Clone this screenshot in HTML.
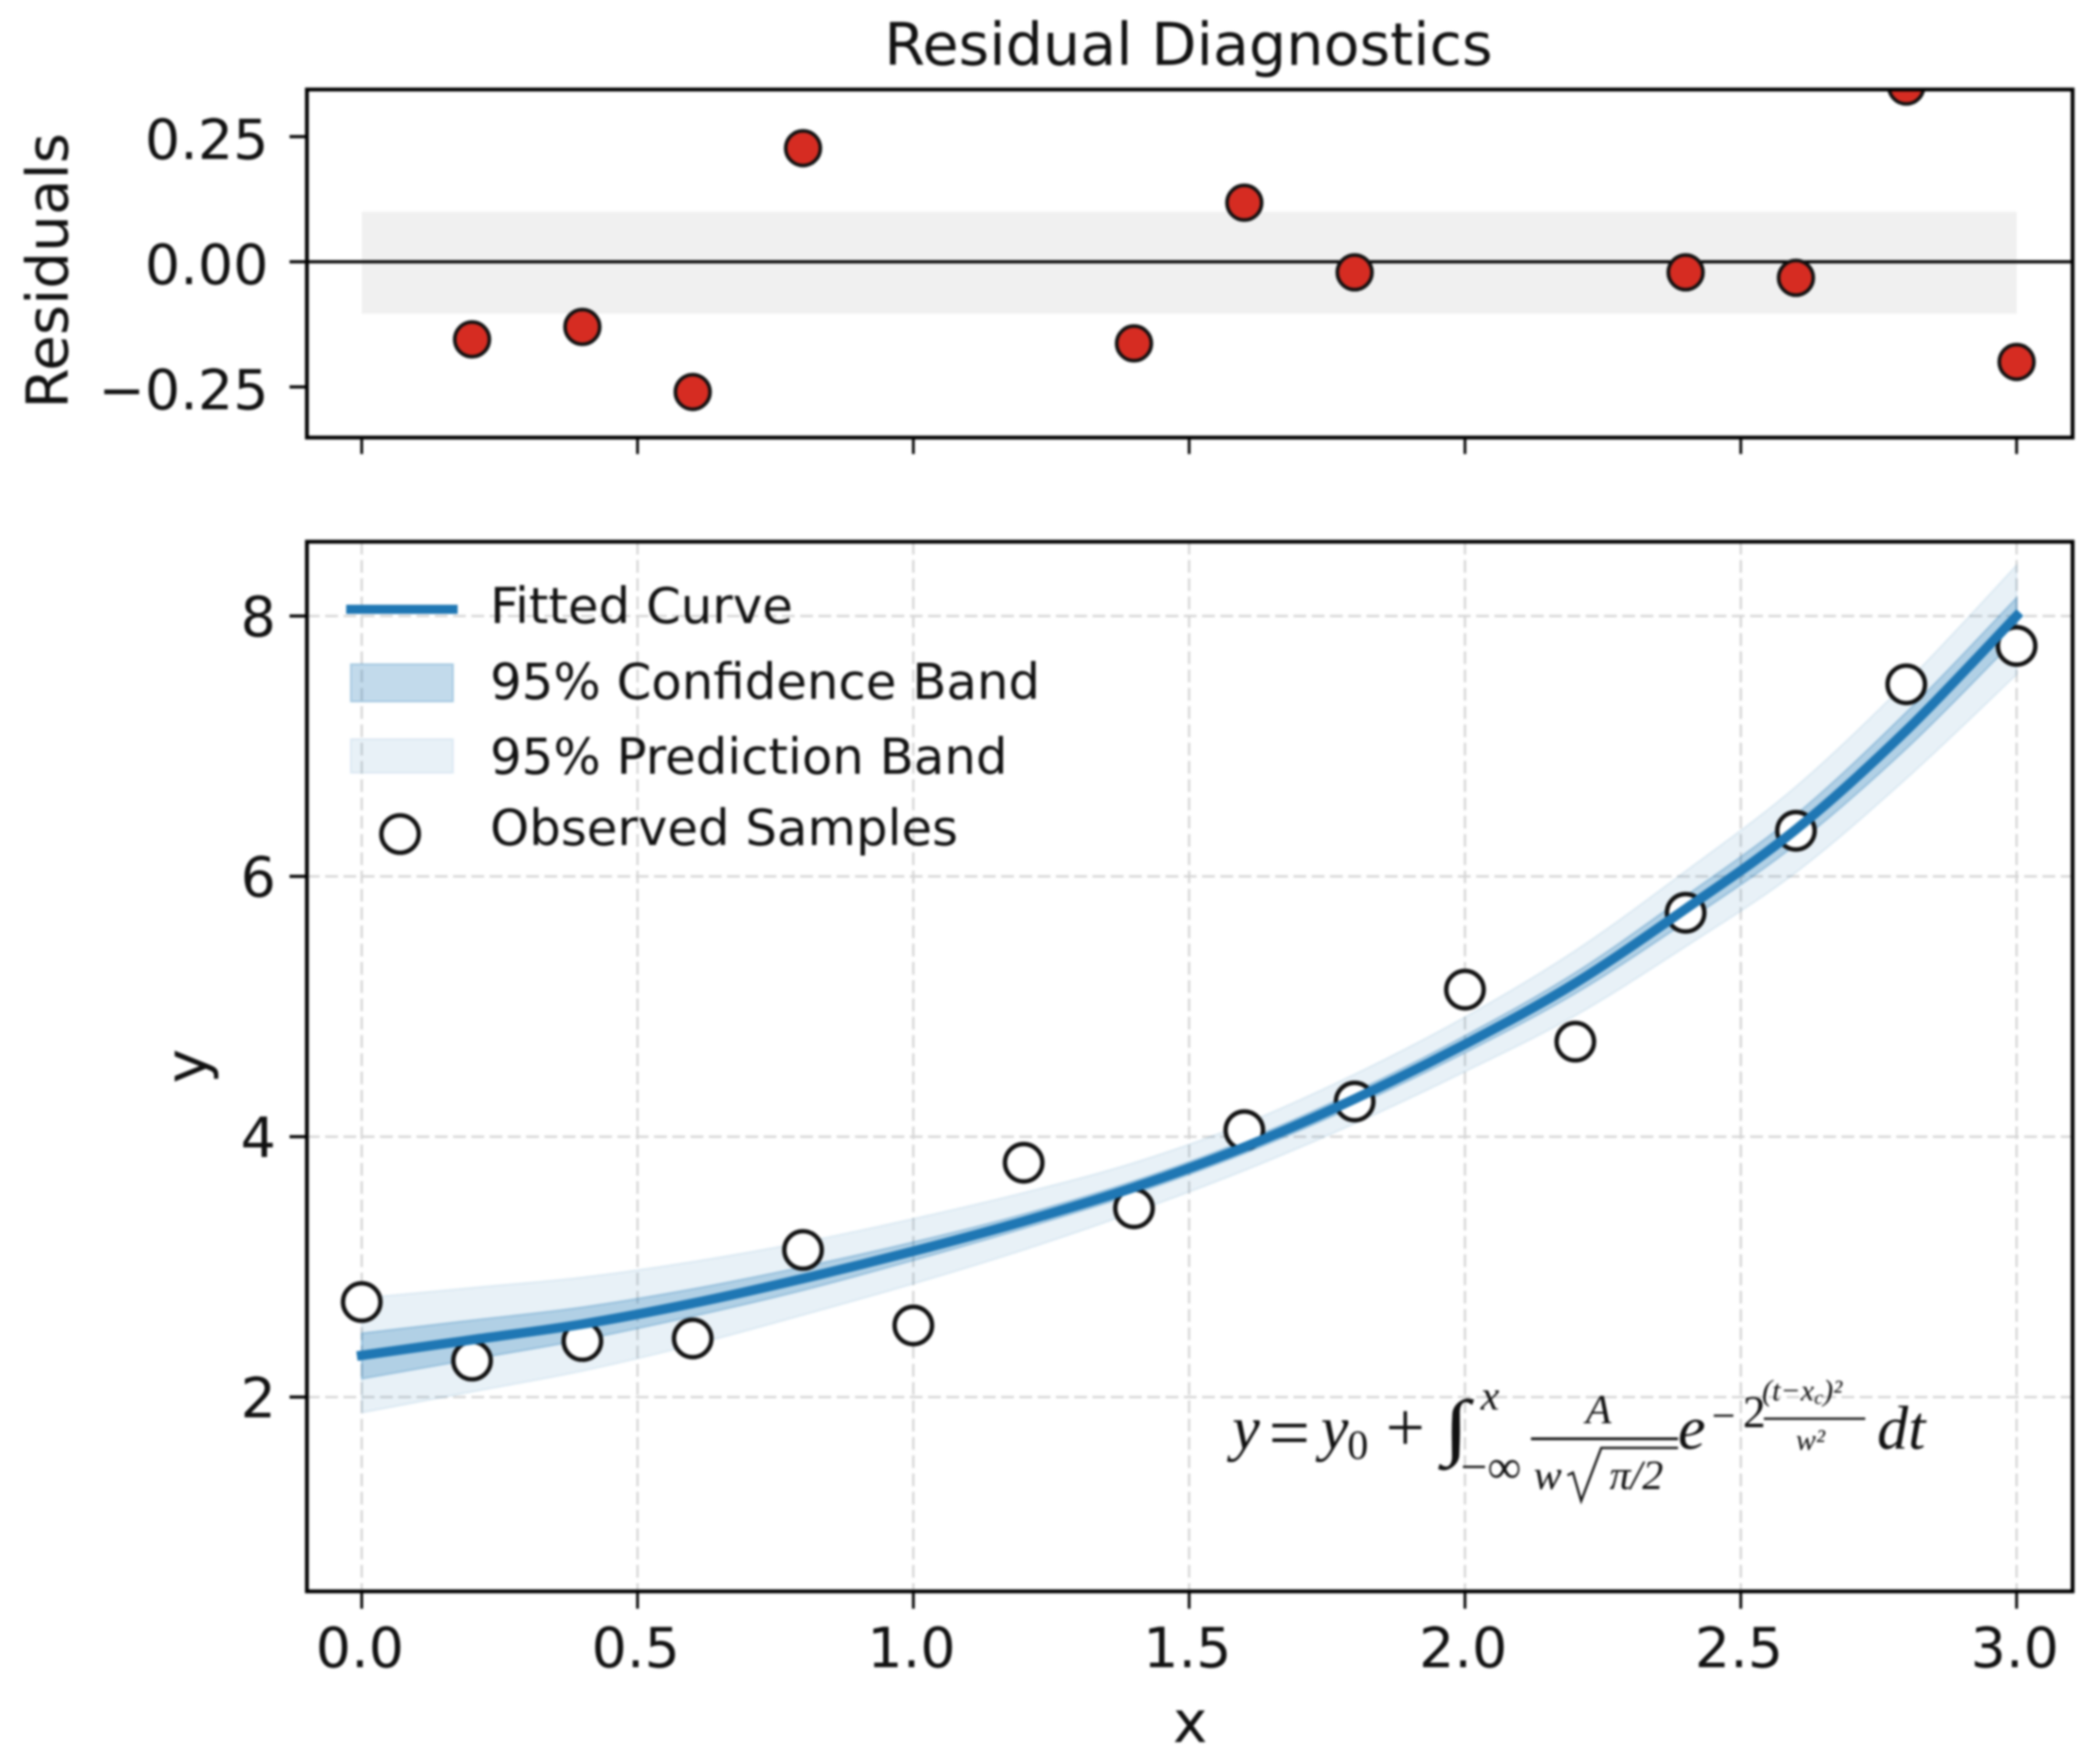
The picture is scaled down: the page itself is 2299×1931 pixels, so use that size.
<!DOCTYPE html>
<html lang="en">
<head>
<meta charset="utf-8">
<title>Residual Diagnostics</title>
<style>
html,body{margin:0;padding:0;background:#fff}
#chart{display:block;width:2299px;height:1931px;filter:blur(1.3px)}
text{font-family:"DejaVu Sans","Liberation Sans",sans-serif;fill:#111}
.m{font-family:"Liberation Serif",serif;font-style:italic;fill:#111}
.r{font-family:"Liberation Serif",serif;fill:#111}
</style>
</head>
<body>
<svg id="chart" xmlns="http://www.w3.org/2000/svg" width="2299" height="1931" viewBox="0 0 2299 1931">
  <defs>
    <clipPath id="clip-top"><rect x="336" y="98" width="1933" height="381"/></clipPath>
    <clipPath id="clip-main"><rect x="336" y="593" width="1933" height="1149"/></clipPath>
  </defs>
  <rect x="0" y="0" width="2299" height="1931" fill="#fff"/>
  <g id="top-panel"></g>
  <g id="main-panel"></g>
  <g id="formula">
    <text class="m" x="1349" y="1586" font-size="68">y</text>
    <text class="r" x="1389" y="1595" font-size="80">=</text>
    <text class="m" x="1446" y="1586" font-size="68">y</text>
    <text class="r" x="1475" y="1597" font-size="46">0</text>
    <text class="r" x="1517" y="1588" font-size="76">+</text>
    <text class="m" transform="translate(1580 1588) scale(1.3 1)" x="0" y="0" font-size="80">∫</text>
    <text class="m" x="1621" y="1543" font-size="46">x</text>
    <text class="r" x="1599" y="1623" font-size="52">−∞</text>
    <text class="m" x="1750" y="1558" font-size="46" text-anchor="middle">A</text>
    <line x1="1676" y1="1575" x2="1837" y2="1575" stroke="#111" stroke-width="3"/>
    <text class="m" x="1679" y="1630" font-size="46">w</text>
    <polyline points="1716,1615 1722,1612 1731,1643 1753,1585 1837,1585" fill="none" stroke="#111" stroke-width="2.5"/>
    <text class="m" x="1762" y="1630" font-size="46">π/2</text>
    <text class="m" x="1837" y="1586" font-size="68">e</text>
    <text class="r" x="1874" y="1565" font-size="46">−</text>
    <text class="r" x="1908" y="1562" font-size="50">2</text>
    <text class="m" x="1929" y="1533" font-size="33">(t−x<tspan font-size="22" dy="4">c</tspan><tspan dy="-4">)²</tspan></text>
    <line x1="1931" y1="1553" x2="2042" y2="1553" stroke="#111" stroke-width="2.5"/>
    <text class="m" x="1966" y="1587" font-size="33">w²</text>
    <text class="m" x="2055" y="1586" font-size="68">dt</text>
  </g>
</svg>
<script>
// ---- chart data ----
const sampleX = [0, 0.2, 0.4, 0.6, 0.8, 1.0, 1.2, 1.4, 1.6, 1.8, 2.0, 2.2, 2.4, 2.6, 2.8, 3.0];
const observedY = [2.73, 2.28, 2.43, 2.45, 3.13, 2.55, 3.80, 3.45, 4.05, 4.27, 5.13, 4.73, 5.72, 6.35, 7.475, 7.77];
const fittedY = [2.32, 2.44, 2.56, 2.72, 2.91, 3.12, 3.35, 3.61, 3.92, 4.29, 4.71, 5.18, 5.75, 6.36, 7.12, 8.0];
const confidenceUpper = [2.49, 2.59, 2.69, 2.83, 3.0, 3.19, 3.405, 3.66, 3.97, 4.345, 4.775, 5.26, 5.85, 6.475, 7.26, 8.14];
const confidenceLower = [2.14, 2.29, 2.44, 2.62, 2.82, 3.05, 3.295, 3.56, 3.87, 4.235, 4.645, 5.10, 5.65, 6.245, 6.98, 7.83];
const predictionUpper = [2.76, 2.84, 2.92, 3.04, 3.19, 3.37, 3.57, 3.80, 4.10, 4.48, 4.92, 5.43, 6.04, 6.69, 7.49, 8.39];
const predictionLower = [1.88, 2.04, 2.20, 2.40, 2.63, 2.87, 3.13, 3.42, 3.74, 4.10, 4.50, 4.93, 5.46, 6.03, 6.75, 7.55];
const residualX = [0.2, 0.4, 0.6, 0.8, 1.4, 1.6, 1.8, 2.4, 2.6, 2.8, 3.0];
const residualY = [-0.155, -0.13, -0.26, 0.227, -0.163, 0.118, -0.021, -0.021, -0.032, 0.35, -0.2];
const residualBand = [-0.1, 0.1];
const xTicks = [0, 0.5, 1.0, 1.5, 2.0, 2.5, 3.0];
const xTickLabels = ['0.0', '0.5', '1.0', '1.5', '2.0', '2.5', '3.0'];
const yTicks = [2, 4, 6, 8];
const yTickLabels = ['2', '4', '6', '8'];
const residualTicks = [-0.25, 0, 0.25];
const residualTickLabels = ['−0.25', '0.00', '0.25'];
const legendLabels = ['Fitted Curve', '95% Confidence Band', '95% Prediction Band', 'Observed Samples'];

// ---- axis functions ----
const xScale = v => 396 + 603.9 * v;
const yScale = v => 674.3 + (8 - v) * 142.5;
const resScale = v => 286.6 - v * 548;

const SVGNS = 'http://www.w3.org/2000/svg';
function add(parent, tag, attrs, txt) {
  const el = document.createElementNS(SVGNS, tag);
  for (const k in attrs) el.setAttribute(k, attrs[k]);
  if (txt !== undefined) el.textContent = txt;
  parent.appendChild(el);
  return el;
}
function curve(pts) {
  let d = 'M' + pts[0][0] + ' ' + pts[0][1];
  for (let i = 0; i < pts.length - 1; i++) {
    const p0 = pts[Math.max(i - 1, 0)], p1 = pts[i], p2 = pts[i + 1], p3 = pts[Math.min(i + 2, pts.length - 1)];
    d += ' C' + (p1[0] + (p2[0] - p0[0]) / 6) + ' ' + (p1[1] + (p2[1] - p0[1]) / 6) + ' ' +
      (p2[0] - (p3[0] - p1[0]) / 6) + ' ' + (p2[1] - (p3[1] - p1[1]) / 6) + ' ' + p2[0] + ' ' + p2[1];
  }
  return d;
}
function bandPath(upper, lower) {
  const up = sampleX.map((x, i) => [xScale(x), yScale(upper[i])]);
  const lo = sampleX.map((x, i) => [xScale(x), yScale(lower[i])]).reverse();
  return curve(up) + ' L' + lo[0][0] + ' ' + lo[0][1] + curve(lo).replace(/^M[^C]*/, ' ') + ' Z';
}

const topPanel = document.getElementById('top-panel');
const mainPanel = document.getElementById('main-panel');
const BLUE = '#1f77b4';

// ---- top panel ----
const topClip = add(topPanel, 'g', { 'clip-path': 'url(#clip-top)' });
const bandRect = add(topClip, 'rect', {
  x: xScale(0), y: resScale(residualBand[1]),
  width: xScale(3) - xScale(0), height: resScale(residualBand[0]) - resScale(residualBand[1]) + 2,
  fill: '#f0f0f0'
});


const zeroLine = add(topClip, 'line', { x1: 336, x2: 2269, y1: resScale(0), y2: resScale(0), stroke: '#000', 'stroke-width': 3.4 });


residualX.forEach((x, i) => {
  const c = add(topClip, 'circle', { cx: xScale(x), cy: resScale(residualY[i]), r: 19, fill: '#d62c22', stroke: '#111', 'stroke-width': 4 });
  
  
});
const topFrame = add(topPanel, 'rect', { x: 336, y: 98, width: 1933, height: 381, fill: 'none', stroke: '#000', 'stroke-width': 4.2 });


xTicks.forEach(v => {
  const t = add(topPanel, 'line', { x1: xScale(v), x2: xScale(v), y1: 479, y2: 497, stroke: '#000', 'stroke-width': 3 });
  
  
});
residualTicks.forEach((v, i) => {
  const t = add(topPanel, 'line', { x1: 317, x2: 336, y1: resScale(v), y2: resScale(v), stroke: '#000', 'stroke-width': 3.4 });
  
  
  const l = add(topPanel, 'text', { x: 294, y: resScale(v) + 24.5, 'font-size': 60.8, 'text-anchor': 'end' }, residualTickLabels[i]);
  
  
});
const topTitle = add(topPanel, 'text', { x: 1301, y: 71, 'font-size': 64.4, 'text-anchor': 'middle' }, 'Residual Diagnostics');


const resLabel = add(topPanel, 'text', { transform: 'translate(74 296.5) rotate(-90)', 'font-size': 63.6, 'text-anchor': 'middle' }, 'Residuals');



// ---- main panel ----
const mainClip = add(mainPanel, 'g', { 'clip-path': 'url(#clip-main)' });
xTicks.forEach(v => {
  const g = add(mainClip, 'line', { x1: xScale(v), x2: xScale(v), y1: 593, y2: 1742, stroke: '#d4d4d4', 'stroke-width': 2.4, 'stroke-dasharray': '14 6' });
  
  
});
yTicks.forEach(v => {
  const g = add(mainClip, 'line', { x1: 336, x2: 2269, y1: yScale(v), y2: yScale(v), stroke: '#d4d4d4', 'stroke-width': 2.4, 'stroke-dasharray': '14 6' });
  
  
});
const piBand = add(mainClip, 'path', { d: bandPath(predictionUpper, predictionLower), fill: BLUE, 'fill-opacity': 0.1, stroke: BLUE, 'stroke-opacity': 0.1, 'stroke-width': 2 });


const ciBand = add(mainClip, 'path', { d: bandPath(confidenceUpper, confidenceLower), fill: BLUE, 'fill-opacity': 0.27, stroke: BLUE, 'stroke-opacity': 0.27, 'stroke-width': 2 });


sampleX.forEach((x, i) => {
  const c = add(mainClip, 'circle', { cx: xScale(x), cy: yScale(observedY[i]), r: 20.5, fill: '#fff', stroke: '#111', 'stroke-width': 4.8 });
  
  
});
const fitLine = add(mainClip, 'path', { d: curve(sampleX.map((x, i) => [xScale(x), yScale(fittedY[i])])), fill: 'none', stroke: BLUE, 'stroke-width': 10.5, 'stroke-linecap': 'square' });



// legend
const legendBaselines = [682, 765, 847, 925];
const legendLine = add(mainPanel, 'line', { x1: 379, x2: 501, y1: 667, y2: 667, stroke: BLUE, 'stroke-width': 10 });


const legendCi = add(mainPanel, 'rect', { x: 384, y: 727, width: 112, height: 41, fill: BLUE, 'fill-opacity': 0.27, stroke: BLUE, 'stroke-opacity': 0.27, 'stroke-width': 2 });


const legendPi = add(mainPanel, 'rect', { x: 384, y: 809, width: 112, height: 37, fill: BLUE, 'fill-opacity': 0.1, stroke: BLUE, 'stroke-opacity': 0.1, 'stroke-width': 2 });


const legendDot = add(mainPanel, 'circle', { cx: 438, cy: 913, r: 20.5, fill: '#fff', stroke: '#111', 'stroke-width': 4.8 });


legendLabels.forEach((s, i) => {
  const t = add(mainPanel, 'text', { x: 536.5, y: legendBaselines[i], 'font-size': 54.5 }, s);
  
  
});

const mainFrame = add(mainPanel, 'rect', { x: 336, y: 593, width: 1933, height: 1149, fill: 'none', stroke: '#000', 'stroke-width': 4.2 });


xTicks.forEach((v, i) => {
  const t = add(mainPanel, 'line', { x1: xScale(v), x2: xScale(v), y1: 1742, y2: 1761, stroke: '#000', 'stroke-width': 3 });
  
  
  const l = add(mainPanel, 'text', { x: xScale(v) - 2, y: 1825, 'font-size': 60.8, 'text-anchor': 'middle' }, xTickLabels[i]);
  
  
});
yTicks.forEach((v, i) => {
  const t = add(mainPanel, 'line', { x1: 317, x2: 336, y1: yScale(v), y2: yScale(v), stroke: '#000', 'stroke-width': 3.4 });
  
  
  const l = add(mainPanel, 'text', { x: 302, y: yScale(v) + 22, 'font-size': 60.8, 'text-anchor': 'end' }, yTickLabels[i]);
  
  
});
const xTitle = add(mainPanel, 'text', { x: 1303, y: 1907, 'font-size': 63.6, 'text-anchor': 'middle' }, 'x');


const yTitle = add(mainPanel, 'text', { transform: 'translate(226 1167) rotate(-90)', 'font-size': 63.6, 'text-anchor': 'middle' }, 'y');


</script>
</body>
</html>
